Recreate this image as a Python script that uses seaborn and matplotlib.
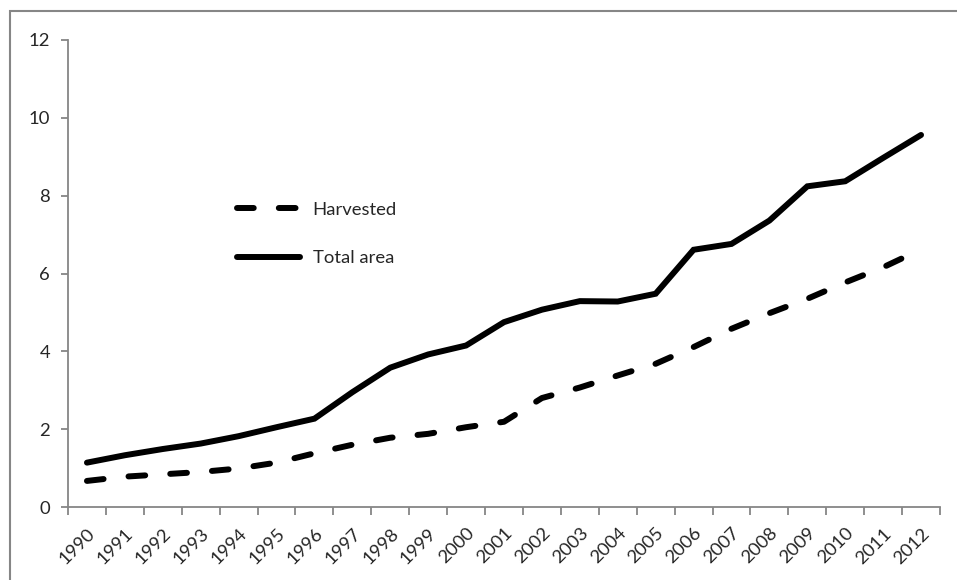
import matplotlib
matplotlib.use("Agg")
import matplotlib.pyplot as plt
from matplotlib.patches import Rectangle
from matplotlib.ticker import FixedLocator
import seaborn as sns
import pandas as pd

years = list(range(1990, 2013))
harvested = [0.67, 0.78, 0.84, 0.90, 0.99, 1.14, 1.38, 1.60, 1.78, 1.88, 2.05,
             2.19, 2.80, 3.07, 3.38, 3.68, 4.11, 4.58, 4.98, 5.35, 5.77, 6.16, 6.62]
total_area = [1.14, 1.33, 1.49, 1.63, 1.82, 2.05, 2.27, 2.95, 3.58, 3.92, 4.15,
              4.75, 5.07, 5.29, 5.28, 5.48, 6.61, 6.76, 7.36, 8.24, 8.37, 8.97, 9.56]
y_ticks = [0, 2, 4, 6, 8, 10, 12]

sns.set_theme(style="white")
plt.rcParams["font.family"] = ["Lato", "DejaVu Sans"]

axis_grey = "#868686"
fs = 13.3

fig = plt.figure(figsize=(9.57, 5.80), dpi=100)
ax = fig.add_axes([68 / 957, 1 - 507 / 580, 872 / 957, 467 / 580])

df_h = pd.DataFrame({"year": years, "value": harvested})
df_t = pd.DataFrame({"year": years, "value": total_area})

sns.lineplot(data=df_h, x="year", y="value", ax=ax, color="black", lw=4.3,
             label="Harvested", dashes=False)
sns.lineplot(data=df_t, x="year", y="value", ax=ax, color="black", lw=4.3,
             label="Total area", dashes=False)

h_line, t_line = ax.get_lines()[:2]
h_line.set_dashes([2.8, 4.2])
h_line.set_dash_capstyle("round")
t_line.set_solid_capstyle("round")
t_line.set_solid_joinstyle("miter")

ax.set_xlim(1989.5, 2012.5)
ax.set_ylim(0, 12)
ax.set_xlabel("")
ax.set_ylabel("")

ax.set_xticks(years)
ax.set_xticklabels([str(y) for y in years], rotation=45, ha="right",
                   rotation_mode="anchor", fontsize=fs)
ax.xaxis.set_minor_locator(FixedLocator([y - 0.5 for y in years] + [2012.5]))
ax.tick_params(axis="x", which="major", length=0, pad=13)
ax.tick_params(axis="x", which="minor", length=6, width=1.3, color=axis_grey,
               direction="out", bottom=True)

ax.set_yticks(y_ticks)
ax.set_yticklabels([str(v) for v in y_ticks], fontsize=fs)
ax.tick_params(axis="y", length=5, width=1.3, color=axis_grey, direction="out",
               left=True, pad=8)

for side in ["top", "right"]:
    ax.spines[side].set_visible(False)
for side in ["left", "bottom"]:
    ax.spines[side].set_color(axis_grey)
    ax.spines[side].set_linewidth(1.3)

leg = ax.legend(loc="center left", bbox_to_anchor=((237 - 68) / 872, (507 - 234) / 467),
                frameon=False, fontsize=fs, handlelength=3.4, handletextpad=0.7,
                labelspacing=1.75, borderpad=0, borderaxespad=0)

# outer chart-area border
fig.patches.append(Rectangle((10 / 957, -0.2), 1.5, 1 - 11 / 580 + 0.2,
                             transform=fig.transFigure, fill=False,
                             edgecolor=axis_grey, lw=1.5, zorder=0))

fig.savefig("out.png", dpi=100, facecolor="white")
